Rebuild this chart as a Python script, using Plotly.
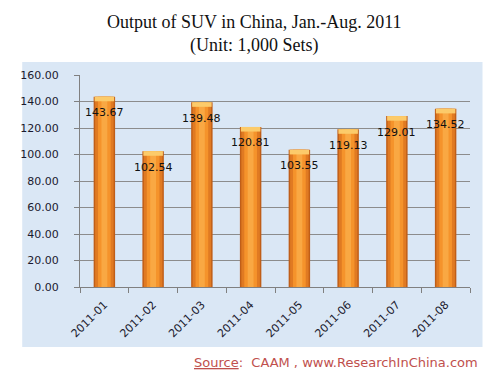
import plotly.graph_objects as go

months = ["2011-01", "2011-02", "2011-03", "2011-04", "2011-05", "2011-06", "2011-07", "2011-08"]
output = [143.67, 102.54, 139.48, 120.81, 103.55, 119.13, 129.01, 134.52]
y_ticks = [0, 20, 40, 60, 80, 100, 120, 140, 160]

W, H = 476, 363
L, R, T, B = 57, 14, 67, 84
PW, PH = W - L - R, H - T - B

fig = go.Figure()

# cylinder-like bars: layered overlays
layers = [(0.44, "#C05E18"), (0.38, "#E07A22"), (0.26, "#F5932B"), (0.12, "#F9A843")]
for w, c in layers:
    fig.add_trace(go.Bar(x=months, y=output, width=w, marker=dict(color=c, line=dict(width=0)),
                         hoverinfo="skip", showlegend=False))
# top cap
cap = 3.5
fig.add_trace(go.Bar(x=months, y=[cap] * len(output), base=[v - cap for v in output], width=0.40,
                     marker=dict(color="#FCCB6A", line=dict(width=0)), hoverinfo="skip", showlegend=False))

for m, v in zip(months, output):
    fig.add_annotation(x=m, y=v, xref="x", yref="y", text=f"{v:.2f}", showarrow=False,
                       yshift=-16, font=dict(family="DejaVu Sans", size=11, color="#111111"))

# background panel
fig.add_shape(type="rect", xref="paper", yref="paper", x0=(-3 - L) / PW, x1=(475 - L) / PW,
              y0=-(339 - (T + PH)) / PH, y1=((T + PH) - 54) / PH, fillcolor="#DAE7F5",
              line=dict(width=0), layer="below")

fig.add_annotation(xref="paper", yref="paper", x=(238 - L) / PW, y=((T + PH) - 2) / PH, yanchor="top",
                   showarrow=False, text="Output of SUV in China, Jan.-Aug. 2011<br>(Unit: 1,000 Sets)",
                   font=dict(family="Liberation Serif", size=18, color="#111111"))

fig.add_annotation(xref="paper", yref="paper", x=(472 - L) / PW, y=-(354 - (T + PH)) / PH,
                   xanchor="right", yanchor="middle", showarrow=False,
                   text="<u>Source</u>:  CAAM , www.ResearchInChina.com",
                   font=dict(family="DejaVu Sans", size=13, color="#C0504D"))

fig.update_layout(
    width=W, height=H,
    margin=dict(l=L, r=R, t=T, b=B),
    paper_bgcolor="white", plot_bgcolor="rgba(0,0,0,0)",
    barmode="overlay", showlegend=False,
    font=dict(family="DejaVu Sans", size=11, color="#1a1a2e"),
)
fig.update_xaxes(type="category", tickangle=-45, tickson="boundaries", ticks="outside", ticklen=5,
                 tickcolor="#808080", showline=True, linecolor="#808080", showgrid=False,
                 ticklabelstandoff=6,
                 tickfont=dict(family="DejaVu Sans", size=11, color="#1a1a2e"))
fig.update_yaxes(range=[0, 160], tickvals=y_ticks, tickformat=".2f", ticks="outside", ticklen=5,
                 tickcolor="#808080", showline=True, linecolor="#808080", showgrid=True, gridcolor="#8c8c8c",
                 gridwidth=1, zeroline=False, ticklabelstandoff=13,
                 tickfont=dict(family="DejaVu Sans", size=11, color="#1a1a2e"))

fig.write_html("out.html")
